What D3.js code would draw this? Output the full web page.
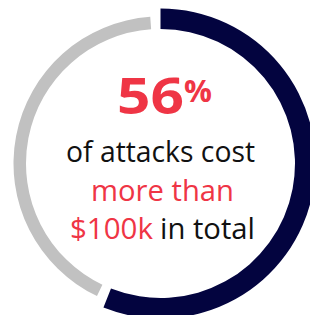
<!DOCTYPE html>
<html>
<head>
<meta charset="utf-8">
<script src="https://cdn.jsdelivr.net/npm/d3@7"></script>
<style>
  html, body { margin: 0; padding: 0; background: #fff; }
  svg { display: block; }
</style>
</head>
<body>
<svg id="chart"></svg>
<script>
// share of attacks by cost
const categories = ["more than $100k", "other"];
const values = [56, 44];
const headline = "56";
const line1 = "of attacks cost";
const line2 = "more than";
const line3 = ["$100k", "in total"];

const width = 310, height = 315;
const cx = 160.5, cy = 163.5;
const colors = {navy: "#03043f", gray: "#c1c1c1", red: "#ef3545", text: "#111111"};
const font = "'Open Sans', sans-serif";

const svg = d3.select("#chart")
    .attr("width", width)
    .attr("height", height);

const g = svg.append("g")
    .attr("transform", `translate(${cx},${cy})`);

const pie = d3.pie().sort(null).value(d => d);
const slices = pie(values);
const gap = 4 * Math.PI / 180; // white gap around the gray part

// navy part is thicker than the gray part
const arcMain = d3.arc().innerRadius(134.5).outerRadius(155);
const arcRest = d3.arc().innerRadius(134.5).outerRadius(147);

g.selectAll("path")
    .data(slices)
    .join("path")
    .attr("d", (d, i) => i === 0
        ? arcMain(d)
        : arcRest({startAngle: d.startAngle + gap, endAngle: d.endAngle - gap}))
    .attr("fill", (d, i) => i === 0 ? colors.navy : colors.gray);

// big number, digits are wide in the original
svg.append("text")
    .attr("x", 117)
    .attr("y", 113.5)
    .attr("textLength", 67)
    .attr("lengthAdjust", "spacingAndGlyphs")
    .style("font-family", font)
    .style("font-weight", 700)
    .style("font-size", "51px")
    .attr("fill", colors.red)
    .text(headline);

svg.append("text")
    .attr("x", 184)
    .attr("y", 101.8)
    .style("font-family", font)
    .style("font-weight", 700)
    .style("font-size", "31px")
    .attr("fill", colors.red)
    .text("%");

const textStyle = sel => sel
    .style("font-family", font)
    .style("font-size", "28.5px")
    .attr("lengthAdjust", "spacingAndGlyphs");

svg.append("text")
    .attr("x", 66)
    .attr("y", 161.5)
    .call(textStyle)
    .attr("textLength", 189)
    .attr("fill", colors.text)
    .text(line1);

svg.append("text")
    .attr("x", 91)
    .attr("y", 201)
    .call(textStyle)
    .attr("textLength", 143)
    .attr("fill", colors.red)
    .text(line2);

svg.append("text")
    .attr("x", 70)
    .attr("y", 238.8)
    .call(textStyle)
    .attr("fill", colors.red)
    .attr("textLength", 83)
    .text(line3[0]);

svg.append("text")
    .attr("x", 160)
    .attr("y", 238.8)
    .call(textStyle)
    .attr("textLength", 95)
    .attr("fill", colors.text)
    .text(line3[1]);
</script>
</body>
</html>
